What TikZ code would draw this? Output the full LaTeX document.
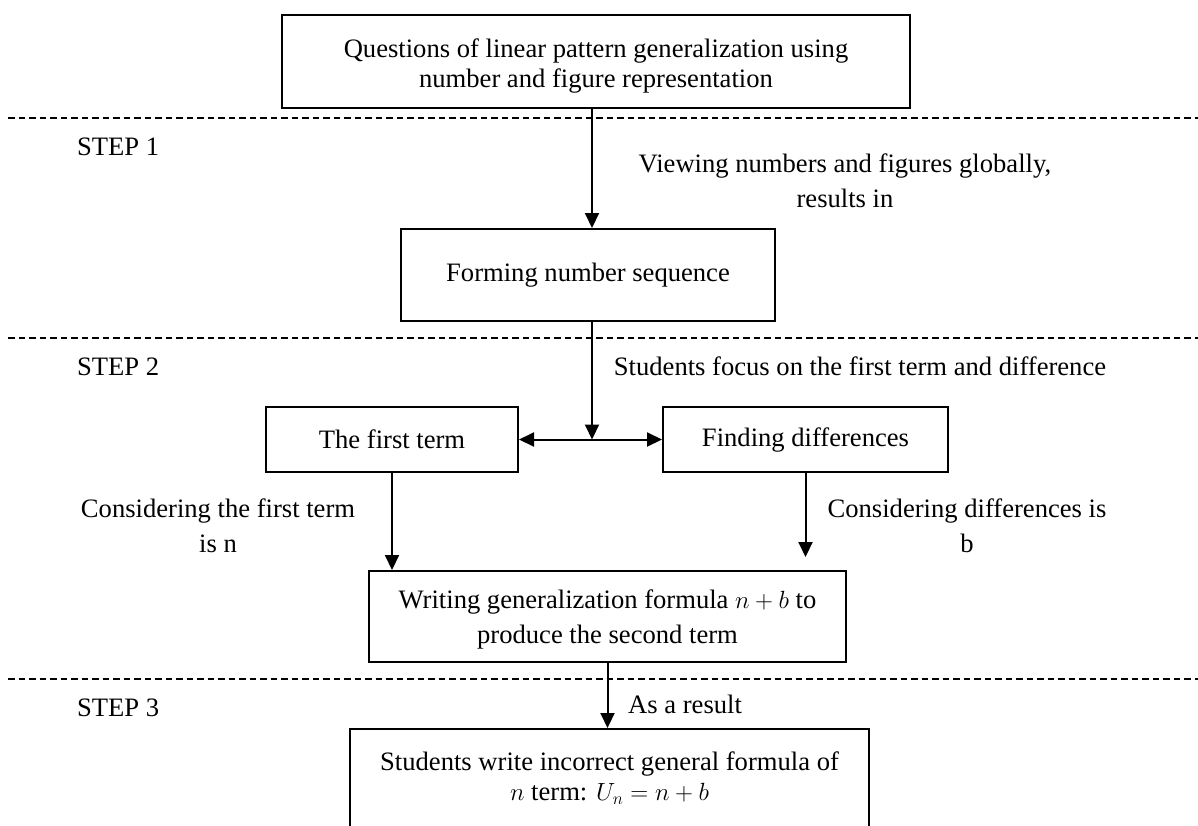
\documentclass[tikz,border=0pt]{standalone}
\usepackage{fontspec}
\setmainfont{Liberation Serif}
\usetikzlibrary{arrows.meta}
\tikzset{
  box/.style={draw, line width=2pt, align=center, inner sep=0pt,
    font=\fontsize{26.6}{30}\selectfont},
  lbl/.style={align=center, inner sep=0pt, anchor=base,
    font=\fontsize{26.6}{35}\selectfont},
  steplbl/.style={inner sep=0pt, anchor=base west,
    font=\fontsize{26.6}{30}\selectfont},
  arr/.style={line width=2pt, -{Triangle[length=15pt,width=14pt]}},
  darr/.style={line width=2pt, {Triangle[length=15pt,width=14pt]}-{Triangle[length=15pt,width=14pt]}},
  divider/.style={line width=2pt, dash pattern=on 6.5pt off 4pt}
}
\begin{document}
\begin{tikzpicture}[x=1pt,y=-1pt]
\useasboundingbox (0,0) rectangle (1198,825);

% dividers
\draw[divider] (8,118) -- (1198,118);
\draw[divider] (8,338) -- (1198,338);
\draw[divider] (8,679) -- (1198,679);

% boxes
\node[box, minimum width=628pt, minimum height=93pt] (top) at (596,61.5)
  {\rule{0pt}{28pt}Questions of linear pattern generalization using\\number and figure representation};
\node[box, minimum width=374pt, minimum height=92pt] (seq) at (588,275)
  {Forming number sequence};
\node[box, minimum width=252pt, minimum height=65pt] (first) at (392,439.5)
  {The first term};
\node[box, minimum width=285pt, minimum height=65pt] (diff) at (805.5,439.5)
  {Finding differences};
\node[box, minimum width=477pt, minimum height=91pt,
  font=\fontsize{26.6}{35}\selectfont] (write) at (607.5,616.5)
  {\rule{0pt}{24pt}Writing generalization formula $n+b$ to\\produce the second term};
\node[box, minimum width=519pt, minimum height=98pt] (res) at (609.5,778)
  {Students write incorrect general formula of\\$n$ term: $U_n=n+b$};

% step labels
\node[steplbl] (s1) at (77,155) {STEP 1};
\node[steplbl] (s2) at (77,375) {STEP 2};
\node[steplbl] (s3) at (77,716) {STEP 3};

% connector labels
\node[lbl] (l1) at (845,207) {Viewing numbers and figures globally,\\results in};
\node[lbl] (l2) at (860,375) {Students focus on the first term and difference};
\node[lbl] (l3) at (218,552) {Considering the first term\\is n};
\node[lbl] (l4) at (967,552) {Considering differences is\\b};
\node[steplbl] (l5) at (628,713) {As a result};

% connectors
\coordinate (j) at (592,439.5);
\coordinate (dend) at (805.5,557);
\draw[arr] ([xshift=-4pt]top.south) -- ([xshift=4pt]seq.north);
\draw[arr] ([xshift=4pt]seq.south) -- (j);
\draw[darr] (first.east) -- (diff.west);
\draw[arr] (first.south) -- (first.south |- write.north);
\draw[arr] (diff.south) -- (dend);
\draw[arr] (write.south) -- (write.south |- res.north);
\end{tikzpicture}
\end{document}
